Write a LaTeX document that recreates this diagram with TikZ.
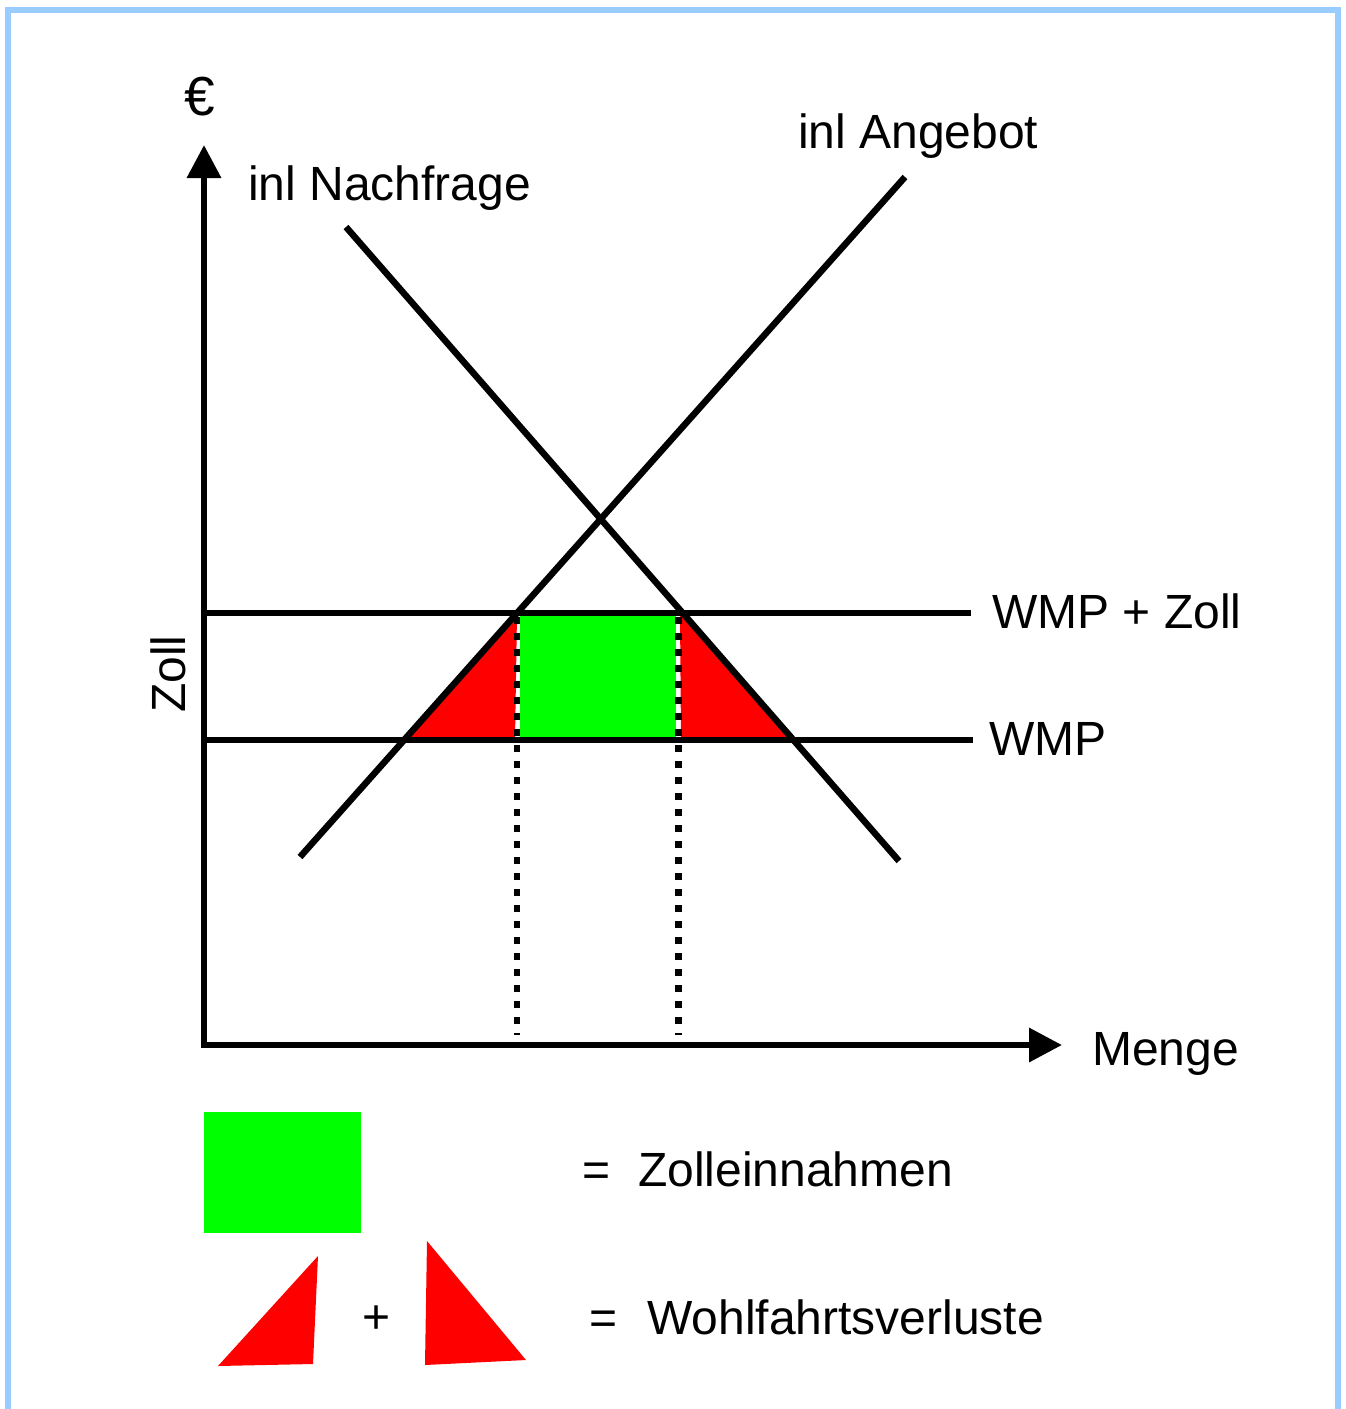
\documentclass[tikz,border=0pt]{standalone}
\usepackage{fontspec}
\setmainfont{Liberation Sans}
\usetikzlibrary{arrows.meta}
\definecolor{frameblue}{HTML}{99CCFF}
\definecolor{tollgreen}{HTML}{00FF00}
\definecolor{lossred}{HTML}{FF0000}
\begin{document}
\begin{tikzpicture}[x=1pt,y=-1pt,
  lbl/.style={inner sep=0pt,anchor=base west,font=\fontsize{48}{52}\selectfont},
  curve/.style={line width=6.5pt},
  axis/.style={line width=6.5pt,-{Triangle[length=33pt,width=33pt]}},
  guide/.style={line width=6.5pt,dash pattern=on 7pt off 9pt}]
\useasboundingbox (0,0) rectangle (1346,1409);
\fill[white] (0,0) rectangle (1346,1409);
\draw[frameblue,line width=6pt] (8,1420) -- (8,10) -- (1338,10) -- (1338,1420);

% coordinates
\coordinate (dA) at (346,227);
\coordinate (dB) at (899,861);
\coordinate (sA) at (300,857);
\coordinate (sB) at (905,177);
\coordinate (yt) at (204,145);
\coordinate (xt) at (1062,1045);
\coordinate (hz1) at (205,613);
\coordinate (hz2) at (971,613);
\coordinate (hw1) at (205,740);
\coordinate (hw2) at (973,740);
\coordinate (p1) at (517,617);
\coordinate (p2) at (678.5,617);
\coordinate (q1) at (517,1035);
\coordinate (q2) at (678.5,1035);

% areas
\fill[tollgreen] (520,616) rectangle (676,737);
\fill[lossred] (404,740) -- (517,614) -- (515,740) -- cycle;
\fill[lossred] (680,614) -- (792,737) -- (681,740) -- cycle;

% lines
\draw[guide] (p1) -- (q1);
\draw[guide] (p2) -- (q2);
\draw[curve] (hz1) -- (hz2);
\draw[curve] (hw1) -- (hw2);
\draw[curve] (dA) -- (dB);
\draw[curve] (sA) -- (sB);
\draw[axis] (204,1048) -- (yt);
\draw[axis] (201,1045) -- (xt);

% labels
\node[lbl,font=\fontsize{55}{60}\selectfont] (euro) at (184,115) {€};
\node[lbl] (nach) at (248,200) {inl Nachfrage};
\node[lbl] (ang) at (798,148) {inl Angebot};
\node[lbl] (wmpz) at (992,628) {WMP + Zoll};
\node[lbl] (wmp) at (989,755) {WMP};
\node[lbl] (menge) at (1092,1065) {Menge};
\node[lbl,rotate=90] (zoll) at (185,713) {Zoll};

% legend
\fill[tollgreen] (204,1112) rectangle (361,1233);
\node[lbl] (eq1) at (582,1186) {=};
\node[lbl] (zein) at (638,1186) {Zolleinnahmen};
\fill[lossred] (218,1366) -- (318,1256) -- (313,1364) -- cycle;
\fill[lossred] (427,1241) -- (526,1360) -- (425,1365) -- cycle;
\node[lbl] (plus) at (362,1333) {+};
\node[lbl] (eq2) at (589,1334) {=};
\node[lbl] (wohl) at (647,1334) {Wohlfahrtsverluste};
\end{tikzpicture}
\end{document}
